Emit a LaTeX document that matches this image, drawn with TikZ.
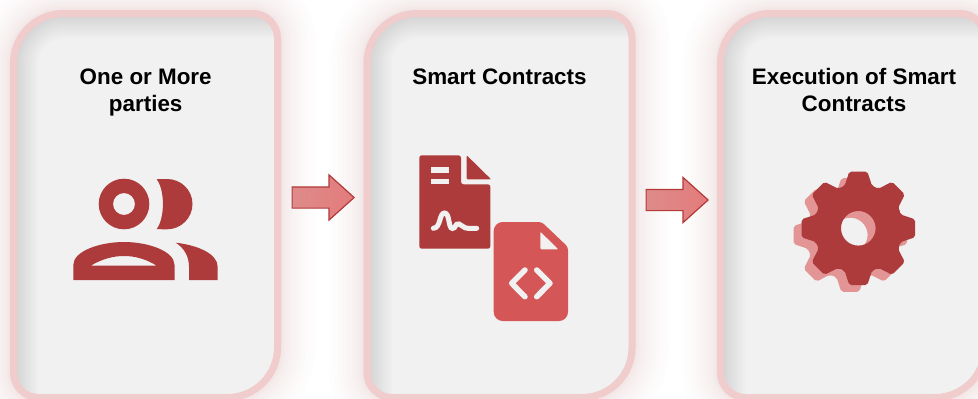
\documentclass[tikz,border=0pt]{standalone}
\usepackage{fontspec}
\setmainfont{Liberation Sans}
\usetikzlibrary{shapes.arrows}
\definecolor{cardborder}{HTML}{F0CCCC}
\definecolor{cardfill}{HTML}{F1F1F1}
\definecolor{icondark}{HTML}{AE3B3B}
\definecolor{iconred}{HTML}{D45656}
\definecolor{iconpale}{HTML}{E39595}
\definecolor{arrowedge}{HTML}{B23A3A}
\definecolor{arrowleft}{HTML}{DE8B8B}
\definecolor{arrowright}{HTML}{E47B7B}
\newcommand{\cardpath}[2]{(#1+120,13.5) [rounded corners=25] -- (#2,13.5) [rounded corners=50] -- (#2,397.5) [rounded corners=25] -- (#1,397.5) [rounded corners=50] -- (#1,13.5) -- cycle}
\tikzset{
	blockarrow/.style={shape=single arrow,draw=arrowedge,line width=1.2pt,left color=arrowleft,right color=arrowright,inner xsep=0pt,inner ysep=10pt,minimum height=62pt,minimum width=45pt,single arrow head extend=12pt,single arrow tip angle=84,single arrow head indent=0pt,anchor=tail},
	cardtitle/.style={align=center,font=\bfseries\fontsize{22.4}{27}\selectfont,text=black}
}
\begin{document}
\begin{tikzpicture}[x=1pt,y=-1pt]
	\useasboundingbox (0,0) rectangle (978,399);
	\fill[white] (0,0) rectangle (978,399);

	% cards
	\foreach \l/\r in {13.5/277.5,367/632,720.5/985} {
		\foreach \i in {1,...,14}
			\draw[iconpale,opacity=0.017,line width=7+0.35*\i*\i] \cardpath{\l}{\r};
		\fill[cardfill] \cardpath{\l}{\r};
		\begin{scope}
			\clip \cardpath{\l}{\r};
			\foreach \i in {1,...,10}
				\draw[black,opacity=0.011,line width=5*\i] (\l,397.5) [rounded corners=50] -- (\l,13.5) -- (\r,13.5);
		\end{scope}
		\draw[cardborder,line width=7] \cardpath{\l}{\r};
	}

	\node[cardtitle] (partiestitle) at (145.7,93) {One or More\\parties};
	\node[cardtitle] (contractstitle) at (499.5,77) {Smart Contracts};
	\node[cardtitle] (executiontitle) at (854,90) {Execution of Smart\\Contracts};

	\node[blockarrow] (arrowone) at (291.5,197.5) {};
	\node[blockarrow] (arrowtwo) at (645.5,200) {};

	% two people
	\fill[icondark,even odd rule] (124,204) circle (25.3) (124,204) circle (11);
	\fill[icondark] (156.7,179.3) .. controls (160,179) and (163,179) .. (167,179) .. controls (181,179) and (192.5,190) .. (192.5,204) .. controls (192.5,218) and (181,229.3) .. (167,229.3) .. controls (163,229.3) and (160,229.3) .. (156.7,229) .. controls (165,218) and (165,190) .. (156.7,179.3) -- cycle;
	\fill[icondark,even odd rule] (73.3,280) -- (73.3,265) .. controls (73.3,251) and (100,242) .. (124,242) .. controls (148,242) and (174.5,251) .. (174.5,265) -- (174.5,280) -- cycle
		(90.7,265.7) .. controls (102,259) and (113,256) .. (124,256) .. controls (135,256) and (146,259) .. (156.7,265.7) -- cycle;
	\fill[icondark] (175.7,242.7) .. controls (184,248) and (189,256) .. (189,267) -- (189,280) -- (217.7,280) -- (217.7,267) .. controls (217.7,253) and (196,245) .. (175.7,242.7) -- cycle;

	% first document
	\fill[icondark,rounded corners=2.5] (461,170) -- (461,155.3) -- (419.3,155.3) -- (419.3,248.7) -- (490.3,248.7) -- (490.3,184.3) -- (461,184.3) -- cycle;
	\fill[icondark,rounded corners=1] (466.7,155.3) -- (490.3,178.5) -- (490.3,179.3) -- (466.7,179.3) -- cycle;
	\fill[cardfill] (431,167.3) rectangle (449,172.7);
	\fill[cardfill] (431,179.3) rectangle (449,184.3);
	\draw[cardfill,line width=5,line cap=round] (433.3,228.3) .. controls (441,228) and (439,213) .. (444.5,213) .. controls (450,213) and (448,228.5) .. (452.5,228.5) .. controls (456,228.5) and (455,223) .. (459,224) .. controls (463,225) and (463,228.3) .. (468,228.3) -- (476.7,228.3);

	% second document
	\fill[iconred] (520,222) [rounded corners=3] -- (541.7,222) -- (568,247) [rounded corners=9] -- (568,321) -- (493.7,321) -- (493.7,222) -- cycle;
	\fill[cardfill,rounded corners=1] (540.3,231.7) -- (558.3,249.3) -- (540.3,249.3) -- cycle;
	\draw[cardfill,line width=5.5,line cap=round,line join=round] (525,270) -- (511.7,283.3) -- (525,296.7);
	\draw[cardfill,line width=5.5,line cap=round,line join=round] (536.7,270) -- (550,283.3) -- (536.7,296.7);

	% gears
	\foreach \cx/\cy/\gearcolor in {850.3/235/iconpale,858.3/228.3/icondark}
		\fill[\gearcolor,even odd rule,shift={(\cx,\cy)},rounded corners=2] (-22.5:44.5)
			\foreach \t in {0,45,...,315} { -- (\t-18:44.5) -- (\t-9:57.5) -- (\t+9:57.5) -- (\t+18:44.5) -- (\t+22.5:44.5) } -- cycle
			(0,0) circle (17.3);
\end{tikzpicture}
\end{document}
